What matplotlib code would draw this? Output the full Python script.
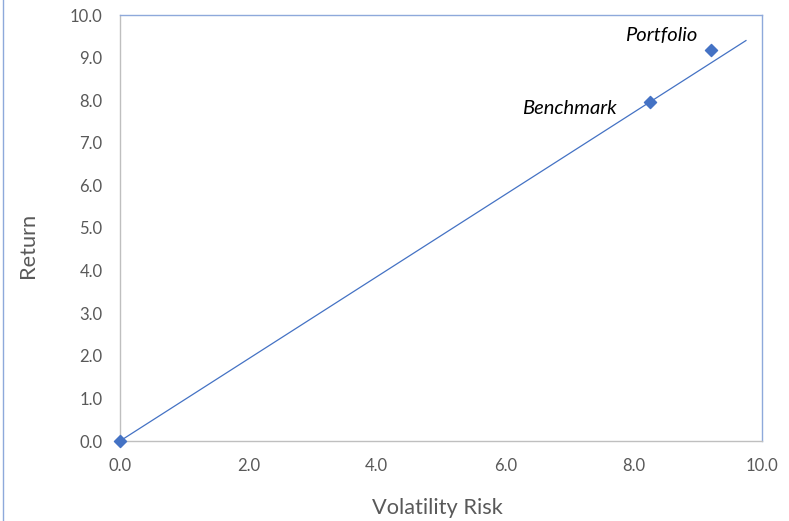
import matplotlib
matplotlib.use("Agg")
import matplotlib.pyplot as plt
from matplotlib.lines import Line2D

# Data
names = ["Risk-free", "Benchmark", "Portfolio"]
risk = [0.0, 8.25, 9.2]
ret = [0.0, 7.95, 9.18]
line_x = [0.0, 9.75]
line_y = [0.0, 9.40]
ticks = [0, 2, 4, 6, 8, 10]
yticks = [0, 1, 2, 3, 4, 5, 6, 7, 8, 9, 10]

blue = "#4472C4"
grey_txt = "#595959"
font = "Lato"

fig = plt.figure(figsize=(7.89, 5.21), dpi=100)
ax = fig.add_axes([120/789, 1-441/521, 642/789, 426/521])

ax.plot(line_x, line_y, color=blue, lw=0.9)
ax.scatter(risk, ret, marker="D", s=38, color=blue, zorder=3, clip_on=False)

ax.text(risk[2] - 0.2, ret[2] + 0.35, names[2], ha="right", va="center",
        fontsize=14.5, style="italic", family=font, color="#000000")
ax.text(risk[1] - 0.52, ret[1] - 0.15, names[1], ha="right", va="center",
        fontsize=14.5, style="italic", family=font, color="#000000")

ax.set_xlim(0, 10)
ax.set_ylim(0, 10)
ax.set_xticks(ticks)
ax.set_xticklabels([f"{t:.1f}" for t in ticks])
ax.set_yticks(yticks)
ax.set_yticklabels([f"{t:.1f}" for t in yticks])
ax.tick_params(length=0, labelsize=12, colors=grey_txt, pad=12.5)
for lab in ax.get_xticklabels() + ax.get_yticklabels():
    lab.set_family(font)

for side in ("left", "bottom"):
    ax.spines[side].set_color("#BFBFBF")
    ax.spines[side].set_linewidth(1.0)
for side in ("top", "right"):
    ax.spines[side].set_color("#8EA9DB")
    ax.spines[side].set_linewidth(1.0)

ax.set_xlabel("Volatility Risk", fontsize=15.7, color=grey_txt, family=font)
ax.set_ylabel("Return", fontsize=15.7, color=grey_txt, family=font)
ax.xaxis.set_label_coords(0.494, -0.133)
ax.yaxis.set_label_coords(-0.128, 0.459)

# chart frame edge on the left
fig.add_artist(Line2D([3/789, 3/789], [0, 1], color="#8EA9DB", lw=1.0,
                      transform=fig.transFigure))

fig.savefig("out.png", dpi=100)
